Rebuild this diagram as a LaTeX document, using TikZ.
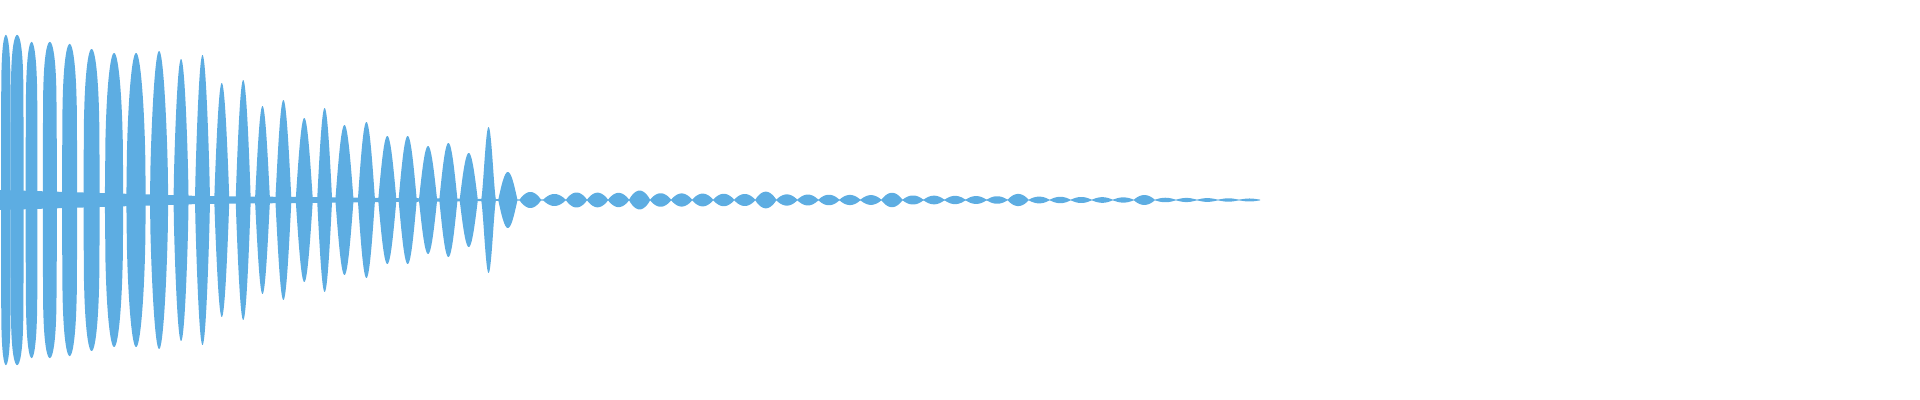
\documentclass[tikz,border=0pt]{standalone}
\begin{document}
\begin{tikzpicture}[x=0.5pt,y=-0.5pt]
\definecolor{wavec}{RGB}{93,173,226}
\tikzset{wave/.style={fill=wavec}}
\useasboundingbox (0,0) rectangle (1920,400);
\fill[wave] (0,190) -- (200,196) -- (520,199.3) -- (1260,199.6) -- (1260,200.4) -- (520,200.7) -- (200,204) -- (0,210) -- cycle;
\begin{scope}[xscale=1.0714]
\foreach \a/\b/\A/\p in {1/10/165/0.12,10/22/165/0.12,24/35/158/0.15,40/53/158/0.15,58/72/156/0.2,78/93/151/0.25,98/115/147/0.35,118/136/147/0.45,140/157/149/0.6,162/176/141/0.7,182/196/145/0.8,200/214/117/0.9,220/234/120/0.9,238/252/94/1,257/272/100/1,276/292/82/1,296/310/92/1,313/330/75/1,334/350/78/1,353/370/64/1,372/389/64/1,391/408/54/1,410/427/57/1,429/446/47/1,449/463/73/1.5,465/483/28/1,485/505/8/0.8,507/528/6/0.8}{
  \fill[wave] plot[domain=\a:\b,samples=40] (\x,{200-\A*max(sin(180*(\x-\a)/(\b-\a)),0.001)^\p})
    -- plot[domain=\b:\a,samples=40] (\x,{200+\A*max(sin(180*(\x-\a)/(\b-\a)),0.001)^\p}) -- cycle;
}
\end{scope}
\foreach \i in {0,...,32}{
  \pgfmathsetmacro\a{566+21.03*\i}
  \pgfmathsetmacro\b{\a+21.03}
  \pgfmathsetmacro\A{max(1.5,7.5-6*\i/32+ (mod(\i,6)==3)*2.5)}
  \fill[wave] plot[domain=\a:\b,samples=30] (\x,{200-\A*max(sin(180*(\x-\a)/(\b-\a)),0.001)^0.8})
    -- plot[domain=\b:\a,samples=30] (\x,{200+\A*max(sin(180*(\x-\a)/(\b-\a)),0.001)^0.8}) -- cycle;
}
\end{tikzpicture}
\end{document}
